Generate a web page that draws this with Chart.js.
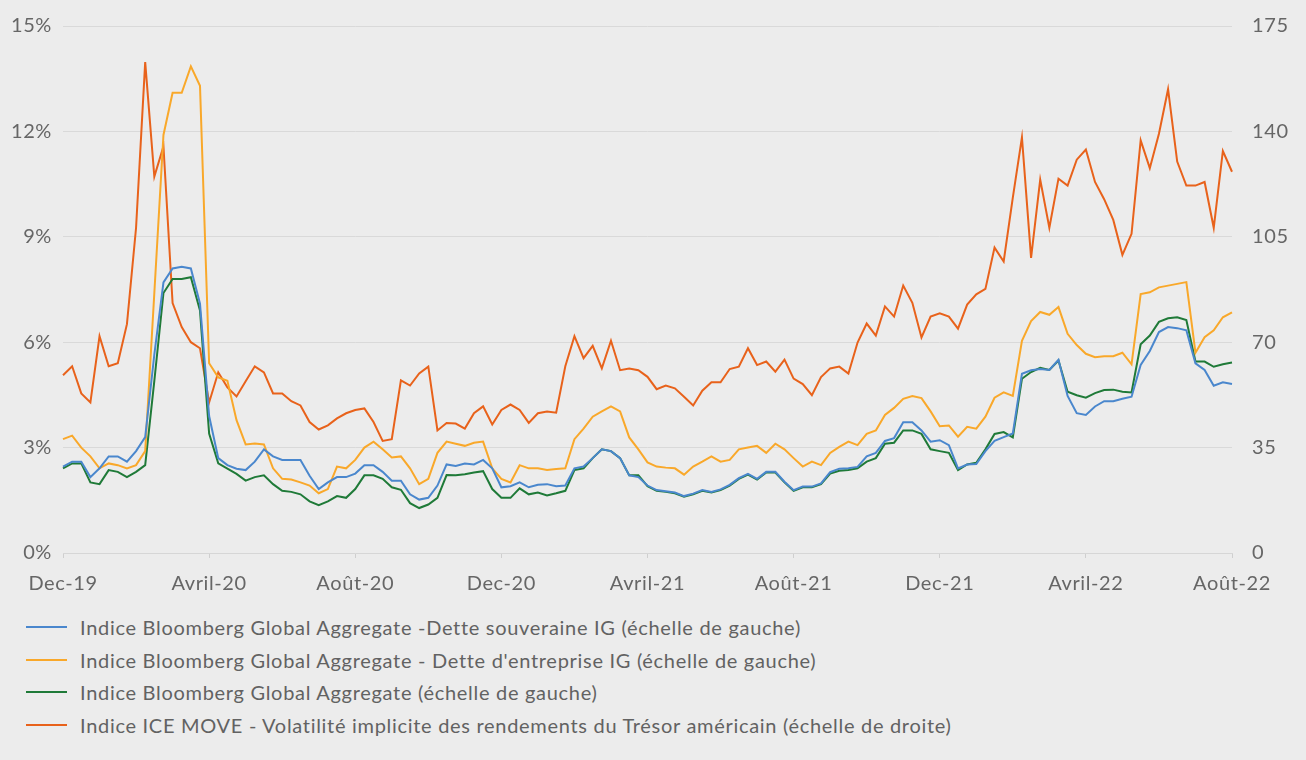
<!DOCTYPE html>
<html lang="fr">
<head>
<meta charset="utf-8">
<script src="https://cdn.jsdelivr.net/npm/chart.js@4.4.1/dist/chart.umd.min.js"></script>
<style>
  body { margin: 0; background: #ececec; font-family: Lato, "Open Sans", sans-serif; }
  #wrap { position: relative; width: 1306px; height: 760px; }
  #legende { position: absolute; left: 26px; top: 611px; }
  .item { height: 32.5px; display: flex; align-items: center; font-size: 20px; letter-spacing: 0.7px; color: #626262; }
  .trait { width: 41px; height: 2px; margin-right: 13px; }
</style>
</head>
<body>
<div id="wrap">
  <canvas id="graphique" width="1306" height="600"></canvas>
  <div id="legende"></div>
</div>
<script>
// Axe des x : 4 points par mois, de Dec-19 à Août-22
const pointsParMois = 4;
const etiquettesX = ['Dec-19', 'Avril-20', 'Août-20', 'Dec-20', 'Avril-21', 'Août-21', 'Dec-21', 'Avril-22', 'Août-22'];

// Indice Bloomberg Global Aggregate - Dette souveraine IG (%)
const souveraine = [2.46, 2.6, 2.6, 2.16, 2.41, 2.75, 2.75, 2.6, 2.9, 3.3, 5.65, 7.7, 8.1, 8.15, 8.1, 7.1,
  3.9, 2.7, 2.5, 2.4, 2.36, 2.6, 2.95, 2.75, 2.65, 2.65, 2.65, 2.2, 1.82, 2.01, 2.16, 2.16,
  2.26, 2.5, 2.5, 2.31, 2.06, 2.06, 1.67, 1.52, 1.57, 1.92, 2.52, 2.48, 2.55, 2.52, 2.65, 2.41,
  1.87, 1.9, 2.01, 1.87, 1.94, 1.96, 1.9, 1.92, 2.41, 2.46, 2.7, 2.95, 2.9, 2.7, 2.21, 2.16,
  1.92, 1.79, 1.76, 1.72, 1.62, 1.69, 1.79, 1.74, 1.81, 1.94, 2.13, 2.25, 2.11, 2.31, 2.31, 2.03,
  1.79, 1.89, 1.89, 1.98, 2.3, 2.4, 2.41, 2.45, 2.75, 2.85, 3.19, 3.27, 3.72, 3.72, 3.49, 3.17,
  3.21, 3.07, 2.41, 2.52, 2.53, 2.9, 3.19, 3.3, 3.4, 5.1, 5.2, 5.24, 5.21, 5.5, 4.47, 3.98,
  3.93, 4.17, 4.32, 4.32, 4.39, 4.45, 5.35, 5.75, 6.29, 6.43, 6.4, 6.34, 5.4, 5.21, 4.76, 4.86, 4.81];

// Indice Bloomberg Global Aggregate - Dette d'entreprise IG (%)
const entreprise = [3.24, 3.34, 3.0, 2.75, 2.41, 2.55, 2.5, 2.41, 2.5, 2.9, 7.4, 11.9, 13.1, 13.1, 13.85, 13.3,
  5.4, 5.0, 4.9, 3.78, 3.09, 3.12, 3.09, 2.41, 2.11, 2.09, 2.01, 1.92, 1.7, 1.82, 2.46, 2.41,
  2.65, 3.0, 3.17, 2.95, 2.72, 2.75, 2.41, 1.96, 2.11, 2.85, 3.17, 3.11, 3.05, 3.14, 3.17, 2.41,
  2.11, 2.01, 2.5, 2.41, 2.41, 2.36, 2.39, 2.41, 3.24, 3.54, 3.88, 4.03, 4.17, 4.03, 3.29, 2.95,
  2.58, 2.46, 2.43, 2.41, 2.23, 2.46, 2.6, 2.75, 2.6, 2.65, 2.95, 3.0, 3.05, 2.85, 3.11, 2.95,
  2.7, 2.46, 2.6, 2.5, 2.85, 3.02, 3.17, 3.07, 3.39, 3.49, 3.93, 4.13, 4.39, 4.47, 4.41, 4.03,
  3.61, 3.63, 3.31, 3.59, 3.54, 3.88, 4.42, 4.57, 4.47, 6.04, 6.6, 6.86, 6.78, 7.0, 6.24, 5.92,
  5.67, 5.57, 5.6, 5.6, 5.7, 5.37, 7.37, 7.42, 7.56, 7.61, 7.66, 7.71, 5.7, 6.14, 6.34, 6.71, 6.85];

// Indice Bloomberg Global Aggregate (%)
const agregat = [2.41, 2.55, 2.55, 2.01, 1.96, 2.36, 2.31, 2.16, 2.31, 2.5, 4.9, 7.4, 7.8, 7.8, 7.85, 6.9,
  3.4, 2.55, 2.4, 2.25, 2.06, 2.16, 2.21, 1.96, 1.77, 1.74, 1.67, 1.47, 1.36, 1.47, 1.62, 1.57,
  1.82, 2.21, 2.21, 2.11, 1.87, 1.8, 1.42, 1.28, 1.38, 1.57, 2.22, 2.21, 2.24, 2.29, 2.33, 1.82,
  1.57, 1.57, 1.84, 1.67, 1.72, 1.64, 1.7, 1.77, 2.36, 2.41, 2.7, 2.95, 2.9, 2.7, 2.21, 2.21,
  1.9, 1.77, 1.74, 1.7, 1.6, 1.67, 1.77, 1.72, 1.79, 1.92, 2.11, 2.23, 2.09, 2.29, 2.29, 2.01,
  1.77, 1.87, 1.87, 1.96, 2.26, 2.34, 2.36, 2.41, 2.6, 2.7, 3.11, 3.14, 3.49, 3.49, 3.39, 2.95,
  2.9, 2.85, 2.36, 2.52, 2.57, 2.95, 3.39, 3.44, 3.29, 4.96, 5.15, 5.27, 5.21, 5.48, 4.59, 4.49,
  4.42, 4.55, 4.64, 4.65, 4.59, 4.57, 5.94, 6.19, 6.58, 6.68, 6.71, 6.63, 5.45, 5.45, 5.3, 5.37, 5.42];

// Indice ICE MOVE (échelle de droite)
const move = [59, 62, 53, 50, 72, 62, 63, 76, 108, 163, 125, 135, 83, 75, 70, 68,
  50, 60, 55, 52, 57, 62, 60, 53, 53, 50.4, 49, 43.5, 41, 42.4, 44.7, 46.4,
  47.5, 48, 43.5, 37.2, 37.8, 57.3, 55.6, 59.6, 61.9, 40.7, 43.2, 43, 41.3, 46.4, 48.7, 42.7,
  47.5, 49.3, 47.5, 43.2, 46.4, 47, 46.6, 62, 72, 64.7, 68.8, 61.3, 70.5, 60.7, 61.3, 60.7,
  58.5, 54.4, 55.6, 54.7, 51.9, 49, 53.9, 56.7, 56.7, 61.1, 61.9, 68, 62.4, 63.6, 60.2, 64.2,
  57.9, 56.1, 52.4, 58.4, 61.3, 61.9, 59.6, 69.9, 76.2, 72.2, 81.9, 78.5, 88.8, 83.1, 71.6, 78.5,
  79.6, 78.5, 74.5, 82.5, 85.9, 87.7, 101.4, 96.8, 118, 138, 98, 124, 108, 124.3, 122, 130.6,
  134, 123.2, 117.5, 110.6, 99, 106, 137, 127.8, 139.2, 154, 130, 122, 122, 123.2, 108, 133.5, 126.6];

const noms = [
  'Indice Bloomberg Global Aggregate -Dette souveraine IG (échelle de gauche)',
  "Indice Bloomberg Global Aggregate - Dette d'entreprise IG (échelle de gauche)",
  'Indice Bloomberg Global Aggregate (échelle de gauche)',
  'Indice ICE MOVE - Volatilité implicite des rendements du Trésor américain (échelle de droite)'
];
const couleurs = ['#4a87cd', '#f9a82a', '#1f7a38', '#e8621b'];

const labels = souveraine.map((v, i) => i);
const police = { family: 'Lato', size: 20 };

function serie(i, data, axe) {
  return {
    label: noms[i],
    data: data,
    yAxisID: axe,
    borderColor: couleurs[i],
    backgroundColor: couleurs[i],
    borderWidth: 2,
    pointRadius: 0,
    tension: 0
  };
}

// un peu d'espacement entre les lettres, la police d'origine est plus large
const espacement = {
  id: 'espacement',
  beforeLayout(chart) { chart.ctx.letterSpacing = '0.6px'; }
};

new Chart(document.getElementById('graphique'), {
  type: 'line',
  data: {
    labels: labels,
    datasets: [
      serie(0, souveraine, 'y'),
      serie(1, entreprise, 'y'),
      serie(2, agregat, 'y'),
      serie(3, move, 'y2')
    ]
  },
  plugins: [espacement],
  options: {
    responsive: false,
    animation: false,
    layout: { padding: { top: 26, left: 0, right: 0, bottom: 0 } },
    plugins: { legend: { display: false }, tooltip: { enabled: false } },
    scales: {
      x: {
        type: 'category',
        offset: false,
        grid: { drawOnChartArea: false, drawTicks: true, tickLength: 5, color: '#cfcfcf' },
        border: { display: true, color: '#d6d6d6' },
        ticks: {
          autoSkip: false,
          maxRotation: 0,
          padding: 14,
          color: '#666',
          font: police,
          callback: (v, i) => i % (pointsParMois * 4) === 0 ? etiquettesX[i / (pointsParMois * 4)] : null
        },
        afterFit: (s) => { s.height = 47; }
      },
      y: {
        position: 'left',
        min: 0,
        max: 15,
        grid: { color: '#d9d9d9', drawTicks: false },
        border: { display: false },
        ticks: { stepSize: 3, padding: 11, color: '#666', font: police, callback: (v) => v + '%' },
        afterFit: (s) => { s.width = 63; s.paddingTop = 0; s.paddingBottom = 0; }
      },
      y2: {
        position: 'right',
        min: 0,
        max: 175,
        grid: { drawOnChartArea: false, drawTicks: false },
        border: { display: false },
        ticks: { stepSize: 35, padding: 20, color: '#666', font: police },
        afterFit: (s) => { s.width = 74; s.paddingTop = 0; s.paddingBottom = 0; }
      }
    }
  }
});

// Légende en HTML, une ligne par série
const legende = document.getElementById('legende');
noms.forEach((nom, i) => {
  const div = document.createElement('div');
  div.className = 'item';
  div.innerHTML = `<span class="trait" style="background:${couleurs[i]}"></span><span>${nom}</span>`;
  legende.appendChild(div);
});
</script>
</body>
</html>
